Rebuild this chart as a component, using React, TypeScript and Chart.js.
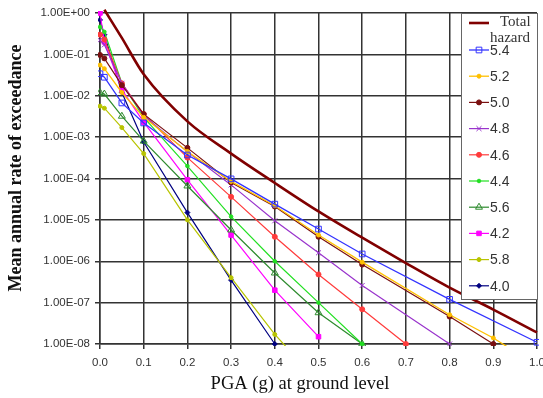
import React, { useEffect, useRef } from 'react';
import { Chart, registerables } from 'chart.js';
import { drawPoint } from 'chart.js/helpers';

Chart.register(...registerables);

// ---- data ----
const pgaTotal = [0.01, 0.05, 0.1, 0.2, 0.3, 0.4, 0.5, 0.6, 0.7, 0.8, 0.9, 1.0];
const rateTotal = [1.2, 0.25, 0.033, 2.4e-3, 4e-4, 7.8e-5, 1.6e-5, 3.7e-6, 9e-7, 2.3e-7, 6.8e-8, 1.9e-8];

const pga54 = [0, 0.01, 0.05, 0.1, 0.2, 0.3, 0.4, 0.5, 0.6, 0.8, 1.0];
const rate54 = [0.034, 0.028, 6.7e-3, 2.2e-3, 3.7e-4, 9.8e-5, 2.4e-5, 6e-6, 1.5e-6, 1.2e-7, 1.1e-8];

const pga52 = [0, 0.01, 0.05, 0.1, 0.2, 0.3, 0.4, 0.5, 0.6, 0.8, 0.9, 1.0];
const rate52 = [0.055, 0.045, 0.012, 3e-3, 4.5e-4, 8.5e-5, 2.2e-5, 4.3e-6, 9.5e-7, 5.1e-8, 1.4e-8, 3e-9];

const pga50 = [0, 0.01, 0.05, 0.1, 0.2, 0.3, 0.4, 0.5, 0.6, 0.8, 0.9];
const rate50 = [0.097, 0.08, 0.018, 3.6e-3, 5.5e-4, 8e-5, 2.1e-5, 3.9e-6, 8.3e-7, 4.6e-8, 1e-8];

const pga48 = [0, 0.01, 0.05, 0.1, 0.2, 0.3, 0.4, 0.5, 0.6, 0.8];
const rate48 = [0.22, 0.17, 0.02, 3.3e-3, 4.4e-4, 7e-5, 9.5e-6, 1.6e-6, 2.6e-7, 1e-8];

const pga46 = [0, 0.01, 0.05, 0.1, 0.2, 0.3, 0.4, 0.5, 0.6, 0.7];
const rate46 = [0.3, 0.23, 0.02, 3.6e-3, 3.2e-4, 3.6e-5, 3.9e-6, 4.8e-7, 6.9e-8, 1e-8];

const pga44 = [0, 0.01, 0.05, 0.1, 0.2, 0.3, 0.4, 0.5, 0.6];
const rate44 = [0.46, 0.35, 0.02, 3e-3, 2e-4, 1.2e-5, 1e-6, 1e-7, 1e-8];

const pga56 = [0, 0.01, 0.05, 0.1, 0.2, 0.3, 0.4, 0.5, 0.6];
const rate56 = [0.012, 0.011, 3.2e-3, 8e-4, 6.6e-5, 5.7e-6, 5.2e-7, 5.7e-8, 1e-8];

const pga42 = [0, 0.01, 0.05, 0.1, 0.2, 0.3, 0.4, 0.5];
const rate42 = [1.0, 0.2, 0.014, 2.3e-3, 9.3e-5, 4.3e-6, 2e-7, 1.5e-8];

const pga58 = [0, 0.01, 0.05, 0.1, 0.2, 0.3, 0.4, 0.5];
const rate58 = [5.6e-3, 5e-3, 1.7e-3, 4e-4, 1e-5, 4e-7, 1.7e-8, 1.2e-9];

const pga40 = [0, 0.01, 0.05, 0.1, 0.2, 0.3, 0.4];
const rate40 = [0.68, 0.3, 0.012, 7.6e-4, 1.5e-5, 3.5e-7, 1e-8];

const xTickValues = [0, 0.1, 0.2, 0.3, 0.4, 0.5, 0.6, 0.7, 0.8, 0.9, 1.0];
const yTickValues = [1, 1e-1, 1e-2, 1e-3, 1e-4, 1e-5, 1e-6, 1e-7, 1e-8];

const xTitle = 'PGA (g) at ground level';
const yTitle = 'Mean annual rate of exceedance';

// ---- styles ----
type S = { label: string; pga: number[]; rate: number[]; color: string; style: any; radius: number; fill: string; width: number };
const series: S[] = [
  { label: 'Total hazard', pga: pgaTotal, rate: rateTotal, color: '#800000', style: false, radius: 0, fill: '#800000', width: 2.6 },
  { label: '5.4', pga: pga54, rate: rate54, color: '#3333ff', style: 'rect', radius: 4, fill: 'rgba(255,255,255,0)', width: 1.3 },
  { label: '5.2', pga: pga52, rate: rate52, color: '#ffc000', style: 'circle', radius: 2, fill: '#ffc000', width: 1.3 },
  { label: '5.0', pga: pga50, rate: rate50, color: '#7a1010', style: 'circle', radius: 2.5, fill: '#7a1010', width: 1.2 },
  { label: '4.8', pga: pga48, rate: rate48, color: '#9933cc', style: 'crossRot', radius: 3.5, fill: '#9933cc', width: 1.2 },
  { label: '4.6', pga: pga46, rate: rate46, color: '#ff3b3b', style: 'circle', radius: 2.5, fill: '#ff3b3b', width: 1.2 },
  { label: '4.4', pga: pga44, rate: rate44, color: '#22e022', style: 'circle', radius: 1.8, fill: '#22e022', width: 1.2 },
  { label: '5.6', pga: pga56, rate: rate56, color: '#2e8b2e', style: 'triangle', radius: 4, fill: 'rgba(255,255,255,0)', width: 1.2 },
  { label: '4.2', pga: pga42, rate: rate42, color: '#ff00ff', style: 'rect', radius: 3.2, fill: '#ff00ff', width: 1.2 },
  { label: '5.8', pga: pga58, rate: rate58, color: '#b8c400', style: 'circle', radius: 2, fill: '#b8c400', width: 1.2 },
  { label: '4.0', pga: pga40, rate: rate40, color: '#000080', style: 'rectRot', radius: 2.5, fill: '#000080', width: 1.2 },
];

function fmtSci(v: number): string {
  const e = Math.round(Math.log10(v));
  return '1.00E' + (e < 0 ? '-' : '+') + String(Math.abs(e)).padStart(2, '0');
}

const overlayPlugin = {
  id: 'overlay',
  afterDraw(chart: any) {
    const ctx = chart.ctx as CanvasRenderingContext2D;
    const ca = chart.chartArea;
    ctx.save();
    // axis titles
    ctx.fillStyle = '#111';
    ctx.font = '18.5px "Liberation Serif", "Times New Roman", serif';
    ctx.textAlign = 'center';
    ctx.textBaseline = 'middle';
    ctx.fillText(xTitle, 300, 384);
    ctx.save();
    ctx.translate(16, 168);
    ctx.rotate(-Math.PI / 2);
    ctx.font = 'bold 18px "Liberation Serif", "Times New Roman", serif';
    ctx.fillText(yTitle, 0, 0);
    ctx.restore();

    // legend box
    const left = ca.right - 76;
    const top = ca.top;
    const w = 77;
    const h = 287;
    ctx.fillStyle = '#ffffff';
    ctx.fillRect(left, top, w, h);
    ctx.strokeStyle = '#666';
    ctx.lineWidth = 1;
    ctx.strokeRect(left + 0.5, top + 0.5, w - 1, h - 1);

    series.forEach((s, i) => {
      const y = i === 0 ? top + 10 : top + 37 + (i - 1) * 26.2;
      ctx.strokeStyle = s.color;
      ctx.lineWidth = s.width;
      ctx.beginPath();
      ctx.moveTo(left + 8, y);
      ctx.lineTo(left + 28, y);
      ctx.stroke();
      if (s.style) {
        ctx.fillStyle = s.fill;
        ctx.strokeStyle = s.color;
        ctx.lineWidth = 1;
        drawPoint(ctx, { pointStyle: s.style, radius: s.radius, rotation: 0, borderWidth: 1 } as any, left + 18, y);
      }
      ctx.fillStyle = '#333';
      ctx.textAlign = 'left';
      ctx.textBaseline = 'middle';
      if (i === 0) {
        ctx.font = '15px "Liberation Serif", "Times New Roman", serif';
        ctx.fillText('Total', left + 39, top + 9);
        ctx.fillText('hazard', left + 29, top + 25);
      } else {
        ctx.font = '14px "Liberation Sans", Arial, sans-serif';
        ctx.fillText(s.label, left + 29, y + 1);
      }
    });
    ctx.restore();
  },
};

export default function App() {
  const ref = useRef<HTMLCanvasElement | null>(null);
  useEffect(() => {
    if (!ref.current) return;
    const chart = new Chart(ref.current, {
      type: 'line',
      data: {
        datasets: series.map((s, i) => ({
          label: s.label,
          data: s.pga.map((x, k) => ({ x, y: s.rate[k] })),
          borderColor: s.color,
          backgroundColor: s.fill,
          borderWidth: s.width,
          pointStyle: s.style,
          pointRadius: s.radius,
          pointBorderColor: s.color,
          pointBackgroundColor: s.fill,
          pointBorderWidth: 1,
          fill: false,
          tension: 0,
          cubicInterpolationMode: i === 0 ? 'monotone' : 'default',
          clip: i === 0 ? { left: 5, top: 10, right: 2, bottom: 2 } : 2,
        })) as any,
      },
      options: {
        responsive: false,
        animation: false,
        devicePixelRatio: 1,
        layout: { padding: { left: 0, top: 13, right: 6, bottom: 0 } },
        plugins: { legend: { display: false }, tooltip: { enabled: false } },
        scales: {
          x: {
            type: 'linear',
            min: 0,
            max: 1,
            afterBuildTicks: (s: any) => {
              s.ticks = xTickValues.map((v) => ({ value: v }));
            },
            afterFit: (s: any) => {
              s.height = 54;
              s.paddingLeft = 0;
              s.paddingRight = 0;
            },
            ticks: {
              callback: (v: any) => Number(v).toFixed(1),
              font: { family: '"Liberation Sans", Arial, sans-serif', size: 11.5 },
              color: '#333',
              padding: 7,
              maxRotation: 0,
              autoSkip: false,
            },
            grid: { color: '#333', lineWidth: 1.5, tickLength: 5 },
            border: { color: '#333', width: 1.5 },
          },
          y: {
            type: 'logarithmic',
            min: 1e-8,
            max: 1,
            afterBuildTicks: (s: any) => {
              s.ticks = yTickValues.map((v) => ({ value: v }));
            },
            afterFit: (s: any) => {
              s.width = 100;
              s.paddingTop = 0;
              s.paddingBottom = 0;
            },
            ticks: {
              callback: (v: any) => fmtSci(Number(v)),
              font: { family: '"Liberation Sans", Arial, sans-serif', size: 11.5 },
              color: '#333',
              padding: 5,
              autoSkip: false,
            },
            grid: { color: '#333', lineWidth: 1.5, tickLength: 5 },
            border: { color: '#333', width: 1.5 },
          },
        },
      } as any,
      plugins: [overlayPlugin],
    });
    return () => chart.destroy();
  }, []);
  return (
    <div style={{ position: 'fixed', left: 0, top: 0, width: 543, height: 398, background: '#fff' }}>
      <canvas ref={ref} width={543} height={398} style={{ display: 'block' }} />
    </div>
  );
}
